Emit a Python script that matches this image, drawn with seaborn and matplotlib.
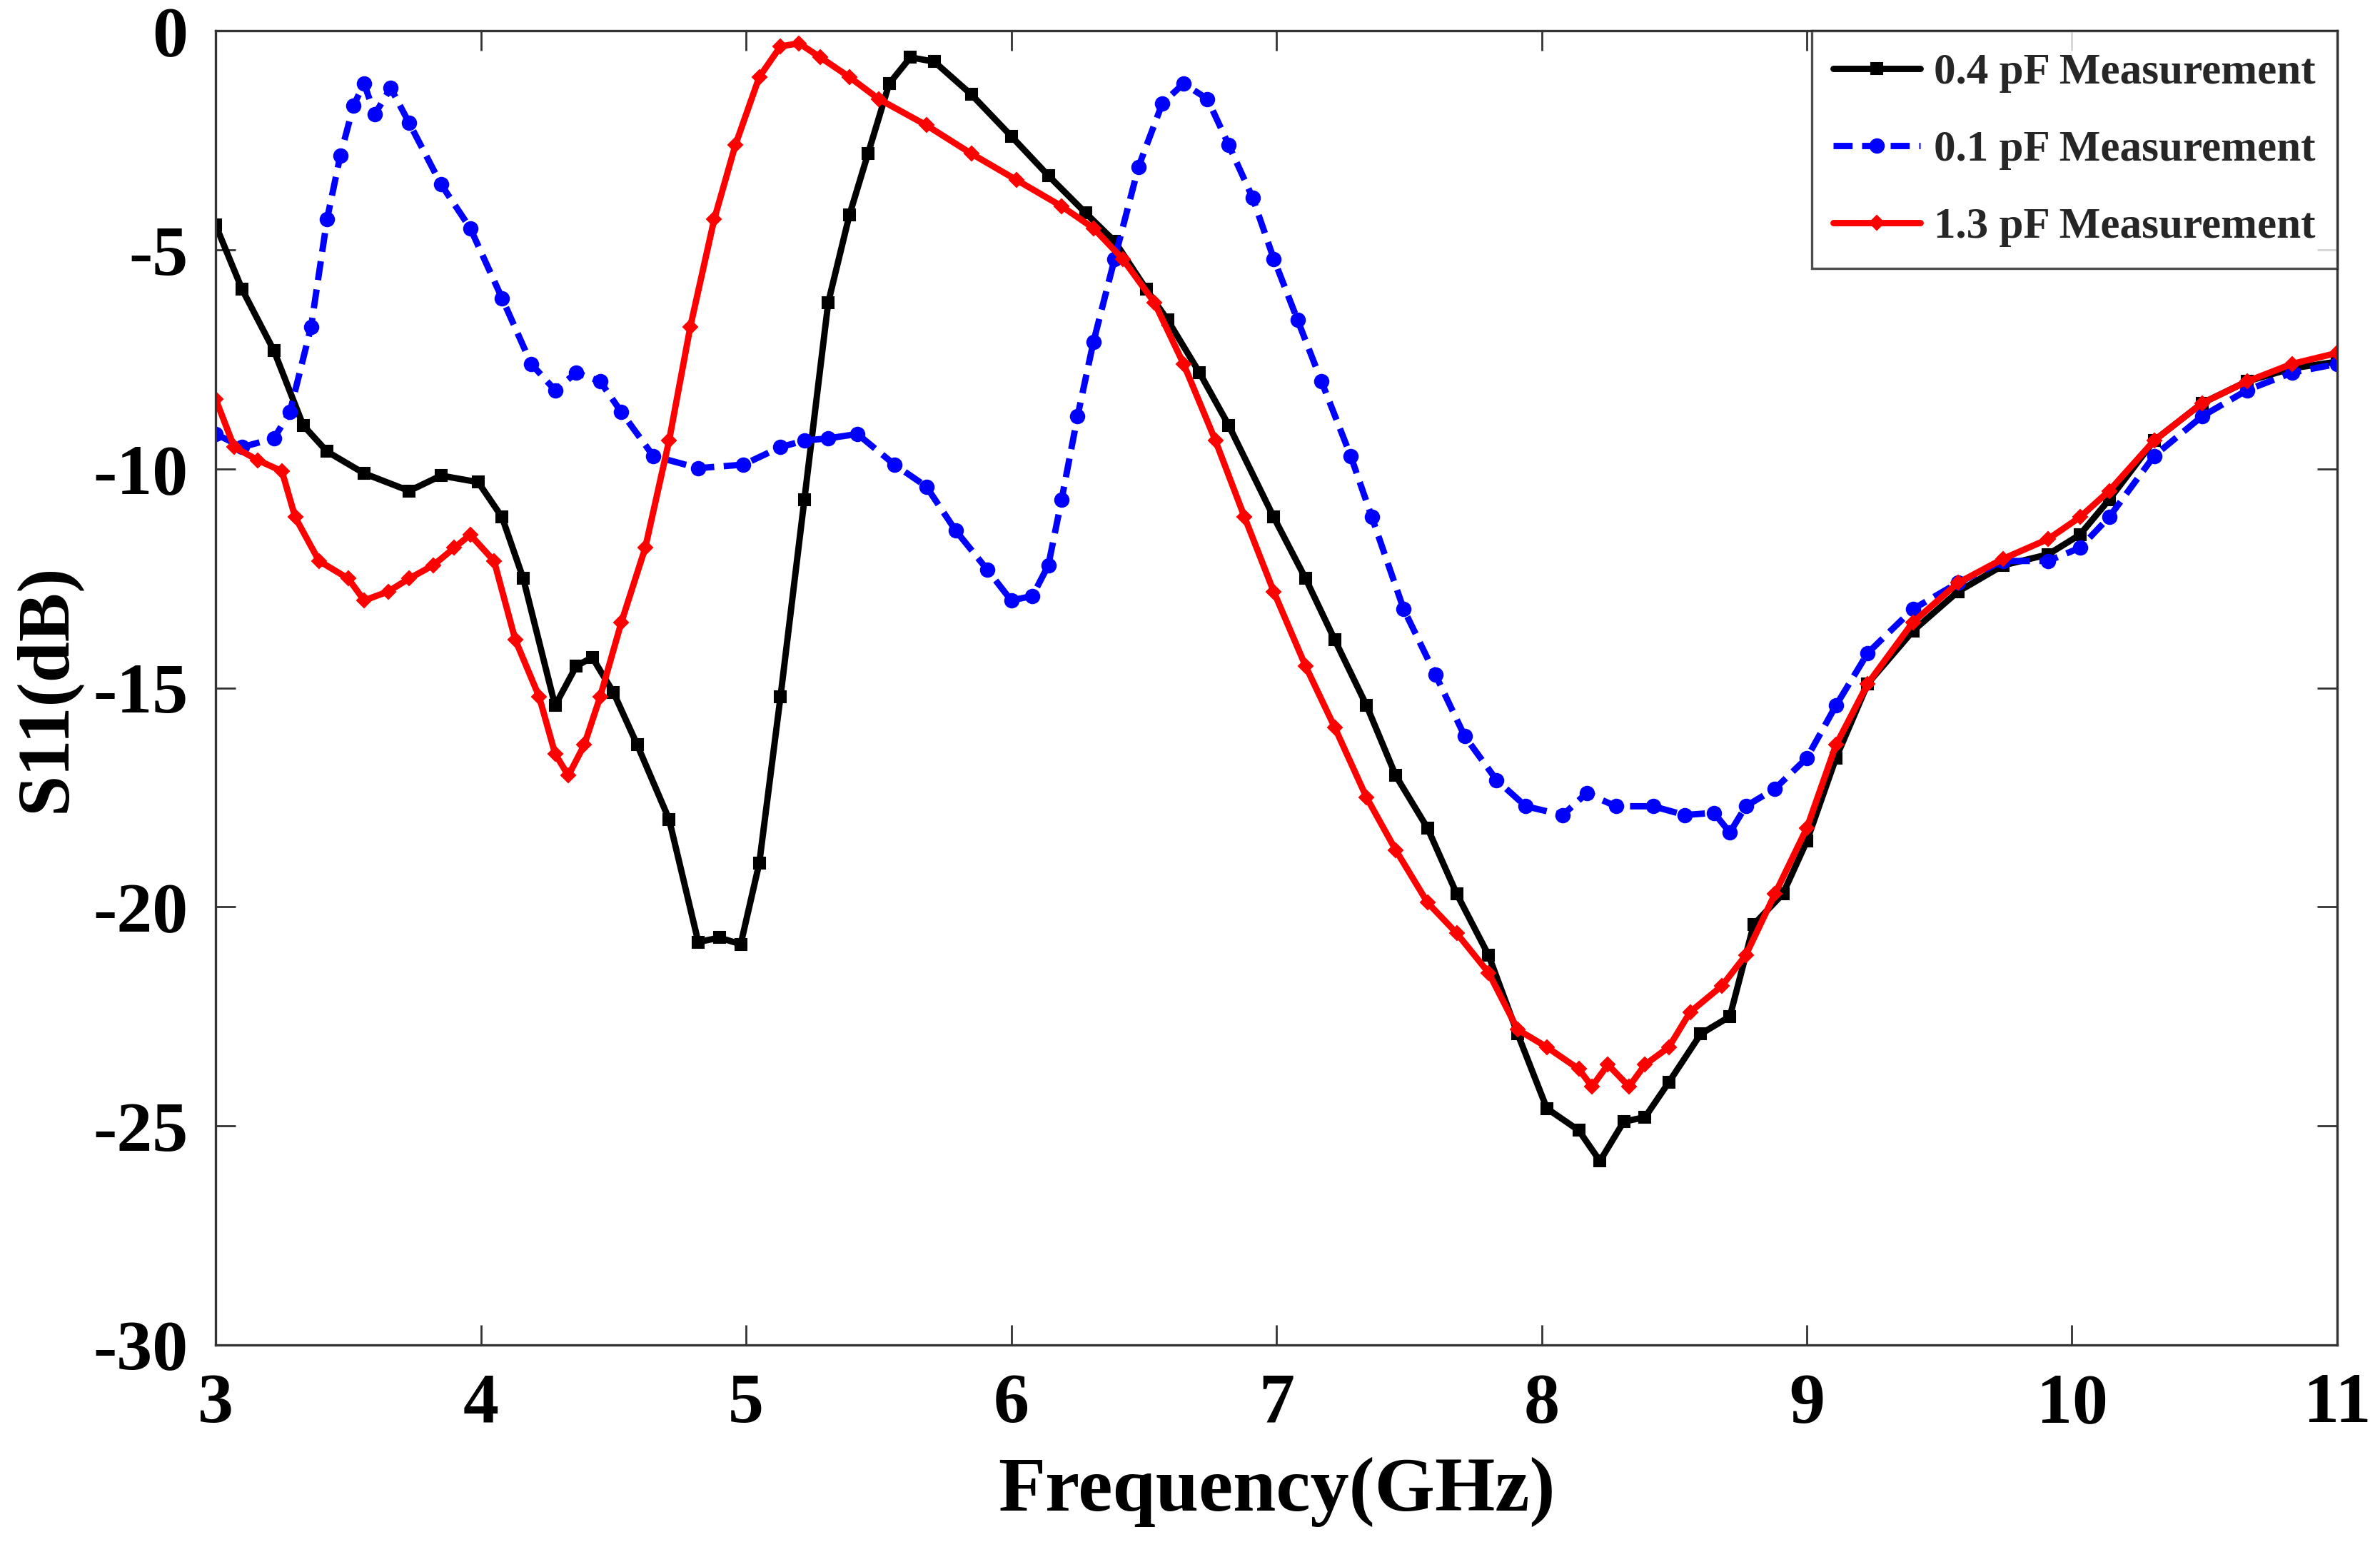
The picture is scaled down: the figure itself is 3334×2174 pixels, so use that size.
import numpy as np
import pandas as pd
import seaborn as sns
import matplotlib
matplotlib.use('Agg')
from matplotlib import pyplot as plt

# S11 readings (GHz, dB) taken off the measured curves
freq_04 = [3.0, 3.1, 3.22, 3.33, 3.42, 3.56, 3.73, 3.85, 3.99, 4.08, 4.16, 4.28, 4.36, 4.42, 4.5,
           4.59, 4.71, 4.82, 4.9, 4.98, 5.05, 5.13, 5.22, 5.31, 5.39, 5.46, 5.54, 5.62, 5.71, 5.85,
           6.0, 6.14, 6.28, 6.39, 6.51, 6.59, 6.71, 6.82, 6.99, 7.11, 7.22, 7.34, 7.45, 7.57, 7.68,
           7.8, 7.91, 8.02, 8.14, 8.22, 8.31, 8.39, 8.48, 8.6, 8.71, 8.8, 8.91, 9.0, 9.11, 9.23,
           9.4, 9.57, 9.74, 9.91, 10.03, 10.14, 10.31, 10.49, 10.66, 10.83, 11.0]
s11_04 = [-4.43, -5.9, -7.3, -9.0, -9.6, -10.1, -10.5, -10.15, -10.3, -11.1, -12.5, -15.4, -14.5, -14.3, -15.1,
          -16.3, -18.0, -20.8, -20.7, -20.85, -19.0, -15.2, -10.7, -6.2, -4.2, -2.8, -1.2, -0.6, -0.7, -1.45,
          -2.4, -3.3, -4.15, -4.8, -5.9, -6.6, -7.8, -9.0, -11.1, -12.5, -13.9, -15.4, -17.0, -18.2, -19.7,
          -21.1, -22.9, -24.6, -25.1, -25.8, -24.9, -24.8, -24.0, -22.9, -22.5, -20.4, -19.7, -18.5, -16.6, -14.9,
          -13.7, -12.8, -12.2, -11.95, -11.5, -10.7, -9.35, -8.5, -8.0, -7.7, -7.55]

freq_01 = [3.0, 3.1, 3.22, 3.28, 3.36, 3.42, 3.47, 3.52, 3.56, 3.6, 3.66, 3.73, 3.85, 3.96, 4.08,
           4.19, 4.28, 4.36, 4.45, 4.53, 4.65, 4.82, 4.99, 5.13, 5.22, 5.31, 5.42, 5.56, 5.68, 5.79,
           5.91, 6.0, 6.08, 6.14, 6.19, 6.25, 6.31, 6.39, 6.48, 6.57, 6.65, 6.74, 6.82, 6.91, 6.99,
           7.08, 7.17, 7.28, 7.36, 7.48, 7.6, 7.71, 7.83, 7.94, 8.08, 8.17, 8.28, 8.42, 8.54, 8.65,
           8.71, 8.77, 8.88, 9.0, 9.11, 9.23, 9.4, 9.57, 9.74, 9.91, 10.03, 10.14, 10.31, 10.49, 10.66,
           10.83, 11.0]
s11_01 = [-9.2, -9.5, -9.3, -8.7, -6.75, -4.3, -2.85, -1.7, -1.2, -1.9, -1.3, -2.1, -3.5, -4.5, -6.1,
          -7.6, -8.2, -7.8, -8.0, -8.7, -9.7, -9.98, -9.9, -9.5, -9.35, -9.3, -9.2, -9.9, -10.4, -11.4,
          -12.3, -13.0, -12.9, -12.2, -10.7, -8.8, -7.1, -5.2, -3.1, -1.65, -1.2, -1.55, -2.6, -3.8, -5.2,
          -6.6, -8.0, -9.7, -11.1, -13.2, -14.7, -16.1, -17.1, -17.7, -17.9, -17.4, -17.7, -17.7, -17.9, -17.85,
          -18.3, -17.7, -17.3, -16.6, -15.4, -14.2, -13.2, -12.6, -12.1, -12.1, -11.8, -11.1, -9.7, -8.8, -8.2,
          -7.8, -7.6]

freq_13 = [3.0, 3.07, 3.16, 3.25, 3.3, 3.39, 3.5, 3.56, 3.65, 3.73, 3.82, 3.9, 3.96, 4.05, 4.13,
           4.22, 4.28, 4.33, 4.39, 4.45, 4.53, 4.62, 4.71, 4.79, 4.88, 4.96, 5.05, 5.13, 5.2, 5.28,
           5.39, 5.5, 5.68, 5.85, 6.02, 6.19, 6.31, 6.42, 6.54, 6.65, 6.77, 6.88, 6.99, 7.11, 7.22,
           7.34, 7.45, 7.57, 7.68, 7.8, 7.91, 8.02, 8.14, 8.19, 8.25, 8.33, 8.39, 8.48, 8.56, 8.68,
           8.77, 8.88, 9.0, 9.11, 9.23, 9.4, 9.57, 9.74, 9.91, 10.03, 10.14, 10.31, 10.49, 10.66, 10.83,
           11.0]
s11_13 = [-8.4, -9.5, -9.8, -10.05, -11.1, -12.1, -12.5, -13.0, -12.8, -12.5, -12.2, -11.8, -11.5, -12.1, -13.9,
          -15.2, -16.5, -17.0, -16.3, -15.2, -13.5, -11.8, -9.35, -6.75, -4.3, -2.6, -1.05, -0.35, -0.28, -0.6,
          -1.05, -1.55, -2.15, -2.8, -3.4, -4.0, -4.5, -5.2, -6.2, -7.6, -9.35, -11.1, -12.8, -14.5, -15.9,
          -17.5, -18.7, -19.9, -20.6, -21.5, -22.8, -23.2, -23.7, -24.1, -23.6, -24.1, -23.6, -23.2, -22.4, -21.8,
          -21.1, -19.7, -18.2, -16.3, -14.9, -13.5, -12.6, -12.05, -11.6, -11.1, -10.5, -9.35, -8.5, -8.0, -7.6,
          -7.35]

x_ticks = [3, 4, 5, 6, 7, 8, 9, 10, 11]
y_ticks = [0, -5, -10, -15, -20, -25, -30]

sns.set_style('ticks')
plt.rcParams['font.family'] = ['Liberation Serif', 'DejaVu Serif']
plt.rcParams['font.weight'] = 'bold'
plt.rcParams['axes.unicode_minus'] = False

fig = plt.figure(figsize=(16.67, 10.87), dpi=200)
ax = fig.add_axes([0.0906, 0.1334, 0.8914, 0.8466])

sns.lineplot(x=freq_04, y=s11_04, ax=ax, color='black', lw=3.2, marker='s', ms=6,
             mec='black', sort=False, label='0.4 pF Measurement')
sns.lineplot(x=freq_01, y=s11_01, ax=ax, color='blue', lw=3.2, marker='o', ms=7,
             mec='blue', linestyle=(0, (3, 1.5)), sort=False, label='0.1 pF Measurement')
sns.lineplot(x=freq_13, y=s11_13, ax=ax, color='red', lw=3.2, marker='D', ms=5,
             mec='red', sort=False, label='1.3 pF Measurement')

ax.set_xlim(3, 11)
ax.set_ylim(-30, 0)
ax.set_xticks(x_ticks)
ax.set_yticks(y_ticks)
ax.tick_params(direction='in', length=10, width=1, top=True, right=True,
               labelsize=36, pad=14, color='#333333', labelcolor='black')
for lab in ax.get_xticklabels() + ax.get_yticklabels():
    lab.set_fontweight('bold')
for sp in ax.spines.values():
    sp.set_visible(True)
    sp.set_linewidth(1.2)
    sp.set_color('#333333')

ax.set_xlabel('Frequency(GHz)', fontsize=39, fontweight='bold', labelpad=10, color='black')
ax.set_ylabel('S11(dB)', fontsize=37, fontweight='bold', labelpad=6, color='black')

leg = ax.legend(loc='upper right', fontsize=22, frameon=True, fancybox=False,
                edgecolor='#222222', handlelength=2.0, handletextpad=0.3,
                borderpad=0.5, labelspacing=0.85, borderaxespad=0)
leg.get_frame().set_linewidth(1.2)
for t in leg.get_texts():
    t.set_fontweight('bold')

fig.savefig('out.png', dpi=200, facecolor='white')
